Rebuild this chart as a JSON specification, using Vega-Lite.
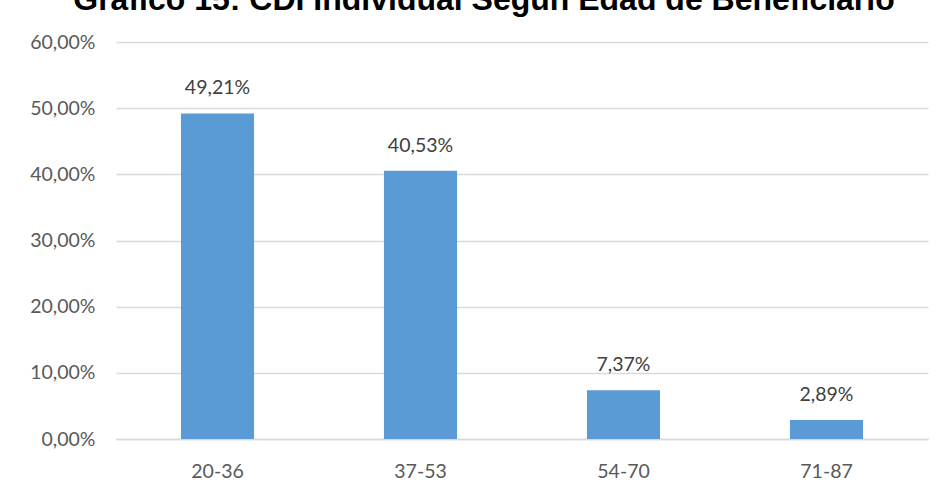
{
  "$schema": "https://vega.github.io/schema/vega-lite/v6.json",
  "width": 812,
  "height": 397,
  "autosize": {"type": "none"},
  "padding": {"left": 116, "top": 42, "right": 18, "bottom": 54},
  "background": "white",
  "title": {
    "text": "Gráfico 15: CDI Individual Según Edad de Beneficiario",
    "font": "Liberation Sans",
    "fontSize": 32,
    "fontWeight": "bold",
    "color": "#000000",
    "anchor": "middle",
    "dx": -38,
    "offset": -10,
    "baseline": "alphabetic"
  },
  "config": {
    "locale": {"number": {"decimal": ",", "thousands": ".", "grouping": [3], "currency": ["", " €"]}},
    "view": {"stroke": null},
    "font": "Lato"
  },
  "data": {
    "values": [
      {"edad": "20-36", "pct": 0.4921},
      {"edad": "37-53", "pct": 0.4053},
      {"edad": "54-70", "pct": 0.0737},
      {"edad": "71-87", "pct": 0.0289}
    ]
  },
  "encoding": {
    "x": {
      "field": "edad", "type": "nominal", "sort": null,
      "scale": {"paddingInner": 0.64, "paddingOuter": 0.32},
      "axis": {
        "title": null, "labelAngle": 0, "labelFontSize": 19.5, "labelColor": "#595959",
        "labelFont": "Lato", "ticks": false, "domainColor": "#D9D9D9", "domainWidth": 1.3,
        "labelPadding": 23
      }
    },
    "y": {
      "field": "pct", "type": "quantitative",
      "scale": {"domain": [0, 0.6], "nice": false},
      "axis": {
        "title": null, "format": ".2%", "values": [0, 0.1, 0.2, 0.3, 0.4, 0.5, 0.6],
        "labelOverlap": false, "labelFontSize": 19.5, "labelColor": "#595959", "labelFont": "Lato",
        "ticks": false, "domain": false, "gridColor": "#D9D9D9", "gridWidth": 1.3,
        "labelPadding": 21
      }
    }
  },
  "layer": [
    {"mark": {"type": "bar", "color": "#5B9BD5"}},
    {
      "mark": {"type": "text", "dy": -25, "fontSize": 19.5, "color": "#404040", "font": "Lato"},
      "encoding": {"text": {"field": "pct", "type": "quantitative", "format": ".2%"}}
    }
  ]
}
